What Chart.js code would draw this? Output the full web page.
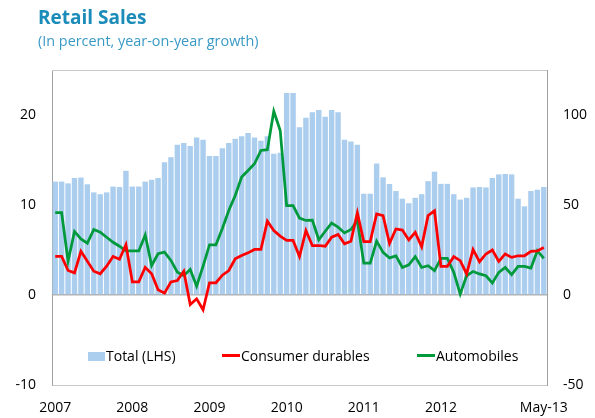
<!DOCTYPE html>
<html>
<head>
<meta charset="utf-8">
<script src="https://cdn.jsdelivr.net/npm/chart.js@4"></script>
<style>
  body { margin: 0; background: #fff; }
  #wrap { position: relative; width: 595px; height: 418px; font-family: "Open Sans", sans-serif; }
  #chart { position: absolute; left: 0; top: 0; }
  .title { position: absolute; left: 38px; top: 4px; font-size: 19px; font-weight: bold; color: #1b8cba; white-space: nowrap; }
  .subtitle { position: absolute; left: 38px; top: 31px; font-size: 14.4px; color: #3a9ac6; white-space: nowrap; }
  .leg { position: absolute; top: 346px; font-size: 14px; color: #000; white-space: nowrap; line-height: 20px; }
  .sw { position: absolute; }
</style>
</head>
<body>
<div id="wrap">
  <canvas id="chart" width="595" height="418"></canvas>
  <div class="title">Retail Sales</div>
  <div class="subtitle">(In percent, year-on-year growth)</div>
  <div class="sw" style="left:88px;top:352px;width:17px;height:9px;background:#abcdee"></div>
  <div class="leg" style="left:106px">Total (LHS)</div>
  <div class="sw" style="left:222px;top:354px;width:18px;height:3px;background:#ff0000"></div>
  <div class="leg" style="left:241px">Consumer durables</div>
  <div class="sw" style="left:417px;top:354px;width:18px;height:3px;background:#009a3d"></div>
  <div class="leg" style="left:436px">Automobiles</div>
</div>
<script>
// monthly, Jan-2007 .. May-2013
const monthNames = ["Jan", "Feb", "Mar", "Apr", "May", "Jun", "Jul", "Aug", "Sep", "Oct", "Nov", "Dec"];
const months = [];
for (let y = 7; y <= 13; y++) {
    for (let m = 0; m < 12; m++) {
        if (y === 13 && m > 4) break;
        months.push(monthNames[m] + "-" + String(y).padStart(2, "0"));
    }
}

// x tick labels shown
const tickLabels = {
    "Jan-07": "2007", "Jan-08": "2008", "Jan-09": "2009", "Jan-10": "2010",
    "Jan-11": "2011", "Jan-12": "2012", "May-13": "May-13"
};

// Total (LHS), percent
const total = [
    12.6, 12.6, 12.4, 13.0, 13.05, 12.3, 11.4, 11.2, 11.4, 12.05, 12.0, 13.8,
    12.05, 12.05, 12.6, 12.8, 13.0, 14.75, 15.3, 16.7, 16.9, 16.55, 17.5, 17.25,
    15.45, 15.45, 16.3, 16.9, 17.35, 17.65, 18.0, 17.5, 17.15, 17.65, 15.7, 15.8,
    22.45, 22.45, 18.65, 19.7, 20.3, 20.55, 19.8, 20.55, 20.3, 17.25, 17.05, 16.7,
    11.25, 11.25, 14.6, 13.07, 12.33, 11.55, 10.7, 10.2, 10.8, 11.2, 12.65, 13.7,
    12.35, 12.35, 11.2, 10.6, 10.8, 11.95, 12.0, 11.95, 13.0, 13.4, 13.45, 13.4,
    10.7, 9.85, 11.55, 11.7, 12.0
];

// Consumer durables (RHS)
const durables = [
    21.4, 21.4, 13.6, 12.3, 24.3, 18.8, 13.2, 11.8, 16, 21.4, 19.9, 28,
    7.3, 7.3, 15.4, 11.8, 2.9, 1, 7.3, 8, 13.2, -5.3, -2.1, -8.2,
    6.8, 6.8, 11, 13.6, 20.1, 21.9, 23.4, 25.3, 25.3, 41, 35.8, 32.7,
    30.3, 30.3, 21.4, 35.8, 27.5, 27.5, 27.1, 32.1, 33.6, 28.4, 29.9, 45.7,
    29.7, 29.7, 45, 44.1, 28.7, 36.7, 36.1, 30.6, 34.8, 26.8, 44.1, 46.8,
    15.9, 15.9, 21.3, 19.1, 11.7, 25.3, 18.5, 22.8, 25, 18.7, 22.8, 20.9,
    21.8, 21.8, 24.2, 24.5, 26.4
];

// Automobiles (RHS)
const autos = [
    45.7, 45.7, 18.8, 35.3, 31.2, 28.8, 36.4, 34.9, 32.1, 29.3, 27.1, 24.5,
    24.5, 24.5, 33.4, 16.4, 22.9, 23.8, 19.2, 12.7, 10.8, 14.2, 4.9, 16,
    27.9, 27.9, 37, 46.9, 55.3, 65.5, 69.2, 72.9, 80.3, 80.7, 102.1, 91.4,
    49.7, 49.7, 42.7, 41.4, 41.6, 30.7, 35.4, 39.9, 37.7, 34.5, 36.4, 41.4,
    17.7, 17.7, 29.9, 23.7, 20.6, 21.7, 15.3, 16.8, 21.3, 15.3, 16.3, 13.5,
    20.3, 20.3, 12.6, 0.5, 10.7, 13.1, 11.7, 10.7, 6.7, 12.6, 15.3, 11.3,
    15.9, 15.9, 15, 24.6, 20.3
];

const leftTicks = [-10, 0, 10, 20];
const rightTicks = [-50, 0, 50, 100];

const font = { family: "Open Sans", size: 14 };

// top edge of the plot box
const boxPlugin = {
    id: "box",
    afterDraw(c) {
        const a = c.chartArea, ctx = c.ctx;
        ctx.save();
        ctx.strokeStyle = "#c8c8c8";
        ctx.lineWidth = 1;
        ctx.beginPath();
        ctx.moveTo(a.left, a.top + 0.5);
        ctx.lineTo(a.right, a.top + 0.5);
        ctx.stroke();
        ctx.restore();
    }
};

new Chart(document.getElementById("chart"), {
    data: {
        labels: months,
        datasets: [
            {
                type: "line", label: "Consumer durables", data: durables, yAxisID: "y1",
                borderColor: "#ff0000", borderWidth: 2.75, pointRadius: 0, tension: 0, order: 0
            },
            {
                type: "line", label: "Automobiles", data: autos, yAxisID: "y1",
                borderColor: "#009a3d", borderWidth: 2.75, pointRadius: 0, tension: 0, order: 1
            },
            {
                type: "bar", label: "Total (LHS)", data: total, yAxisID: "y",
                backgroundColor: "#abcdee", barPercentage: 0.84, categoryPercentage: 1, order: 2
            }
        ]
    },
    options: {
        responsive: false,
        animation: false,
        layout: { padding: { top: 70, left: 0, right: 0, bottom: 0 } },
        plugins: { legend: { display: false }, tooltip: { enabled: false } },
        scales: {
            x: {
                offset: true,
                grid: { display: false, drawTicks: false },
                border: { display: true, color: "#c8c8c8" },
                ticks: {
                    autoSkip: false, maxRotation: 0, padding: 15, color: "#000", font: font,
                    callback: function (v) { return tickLabels[months[v]] || ""; }
                },
                afterFit: function (s) { s.height = 33; }
            },
            y: {
                position: "left", min: -10, max: 25,
                grid: {
                    drawTicks: false, lineWidth: 1.5,
                    color: (ctx) => ctx.tick && ctx.tick.value === 0 ? "#b0b0b0" : "transparent"
                },
                border: { display: true, color: "#a0a0a0" },
                ticks: { padding: 16, color: "#000", font: font },
                afterBuildTicks: function (s) { s.ticks = leftTicks.map(v => ({ value: v })); },
                afterFit: function (s) { s.width = 52; }
            },
            y1: {
                position: "right", min: -50, max: 125,
                grid: { display: false, drawTicks: false },
                border: { display: true, color: "#a0a0a0" },
                ticks: { padding: 16, color: "#000", font: font },
                afterBuildTicks: function (s) { s.ticks = rightTicks.map(v => ({ value: v })); },
                afterFit: function (s) { s.width = 48; }
            }
        }
    },
    plugins: [boxPlugin]
});
</script>
</body>
</html>
